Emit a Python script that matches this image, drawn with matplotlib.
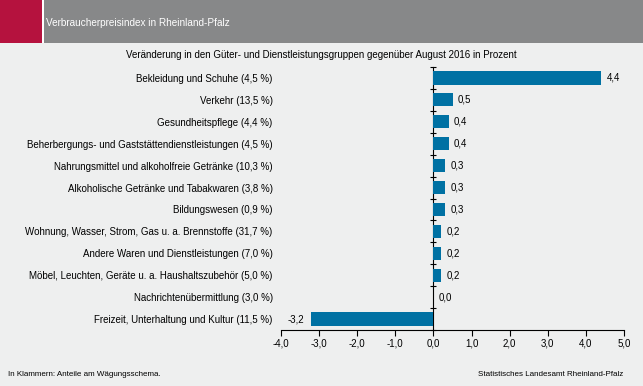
import matplotlib

matplotlib.use('Agg')
import matplotlib.pyplot as plt
import matplotlib.patches as patches
import numpy as np

plt.rcParams['font.family'] = ['Liberation Sans', 'DejaVu Sans']

categories = ['Bekleidung und Schuhe (4,5 %)',
              'Verkehr (13,5 %)',
              'Gesundheitspflege (4,4 %)',
              'Beherbergungs- und Gaststättendienstleistungen (4,5 %)',
              'Nahrungsmittel und alkoholfreie Getränke (10,3 %)',
              'Alkoholische Getränke und Tabakwaren (3,8 %)',
              'Bildungswesen (0,9 %)',
              'Wohnung, Wasser, Strom, Gas u. a. Brennstoffe (31,7 %)',
              'Andere Waren und Dienstleistungen (7,0 %)',
              'Möbel, Leuchten, Geräte u. a. Haushaltszubehör (5,0 %)',
              'Nachrichtenübermittlung (3,0 %)',
              'Freizeit, Unterhaltung und Kultur (11,5 %)']
values = [4.4, 0.5, 0.4, 0.4, 0.3, 0.3, 0.3, 0.2, 0.2, 0.2, 0.0, -3.2]
xticks = [-4, -3, -2, -1, 0, 1, 2, 3, 4, 5]

bg = '#eeefef'
bar_color = '#0071a3'

fig = plt.figure(figsize=(6.43, 3.86), dpi=100)
fig.patch.set_facecolor(bg)

# header band
fig.patches.append(patches.Rectangle((0, 1 - 43 / 386), 1, 43 / 386, transform=fig.transFigure,
                                     facecolor='#878889', edgecolor='none'))
fig.patches.append(patches.Rectangle((0, 1 - 43 / 386), 42 / 643, 43 / 386, transform=fig.transFigure,
                                     facecolor='#b5123e', edgecolor='none'))
fig.patches.append(patches.Rectangle((42 / 643, 1 - 43 / 386), 2 / 643, 43 / 386, transform=fig.transFigure,
                                     facecolor='white', edgecolor='none'))
fig.text(46 / 643, 1 - 23 / 386, 'Verbraucherpreisindex in Rheinland-Pfalz', color='white',
         fontsize=7.2, va='center', ha='left')

ax = fig.add_axes([281 / 643, 1 - 330 / 386, 343 / 643, 263 / 386])
ax.set_facecolor(bg)

y = np.arange(len(categories))
ax.barh(y, values, height=0.6, color=bar_color)
ax.set_ylim(len(categories) - 0.5, -0.5)
ax.set_xlim(-4, 5)

for yi, v in zip(y, values):
    s = ('%.1f' % v).replace('.', ',')
    if v < 0:
        ax.text(v - 0.2, yi, s, ha='right', va='center', fontsize=7)
    else:
        ax.text(v + 0.14, yi, s, ha='left', va='center', fontsize=7)

ax.set_yticks(y)
ax.set_yticklabels(categories, fontsize=7)
ax.tick_params(axis='y', length=0, pad=6)
ax.set_xticks(xticks)
ax.set_xticklabels([('%.1f' % t).replace('.', ',') for t in xticks], fontsize=7)
ax.tick_params(axis='x', length=4, width=0.8, pad=2)

for s in ['top', 'right', 'left']:
    ax.spines[s].set_visible(False)
ax.spines['bottom'].set_linewidth(0.8)

# vertical axis at zero with ticks between categories
sec = ax.secondary_yaxis(0, transform=ax.transData)
sec.set_yticks(np.arange(-0.5, len(categories), 1))
sec.set_yticklabels([])
sec.tick_params(length=5, width=0.8, direction='inout')
sec.spines['left'].set_linewidth(0.8)

fig.text(0.5, 1 - 55 / 386, 'Veränderung in den Güter- und Dienstleistungsgruppen gegenüber August 2016 in Prozent',
         ha='center', va='center', fontsize=7)
fig.text(8 / 643, 1 - 374 / 386, 'In Klammern: Anteile am Wägungsschema.', ha='left', va='center', fontsize=5.8)
fig.text(623 / 643, 1 - 375 / 386, 'Statistisches Landesamt Rheinland-Pfalz', ha='right', va='center', fontsize=5.8)

fig.savefig('out.png', dpi=100, facecolor=fig.get_facecolor())
plt.close()
